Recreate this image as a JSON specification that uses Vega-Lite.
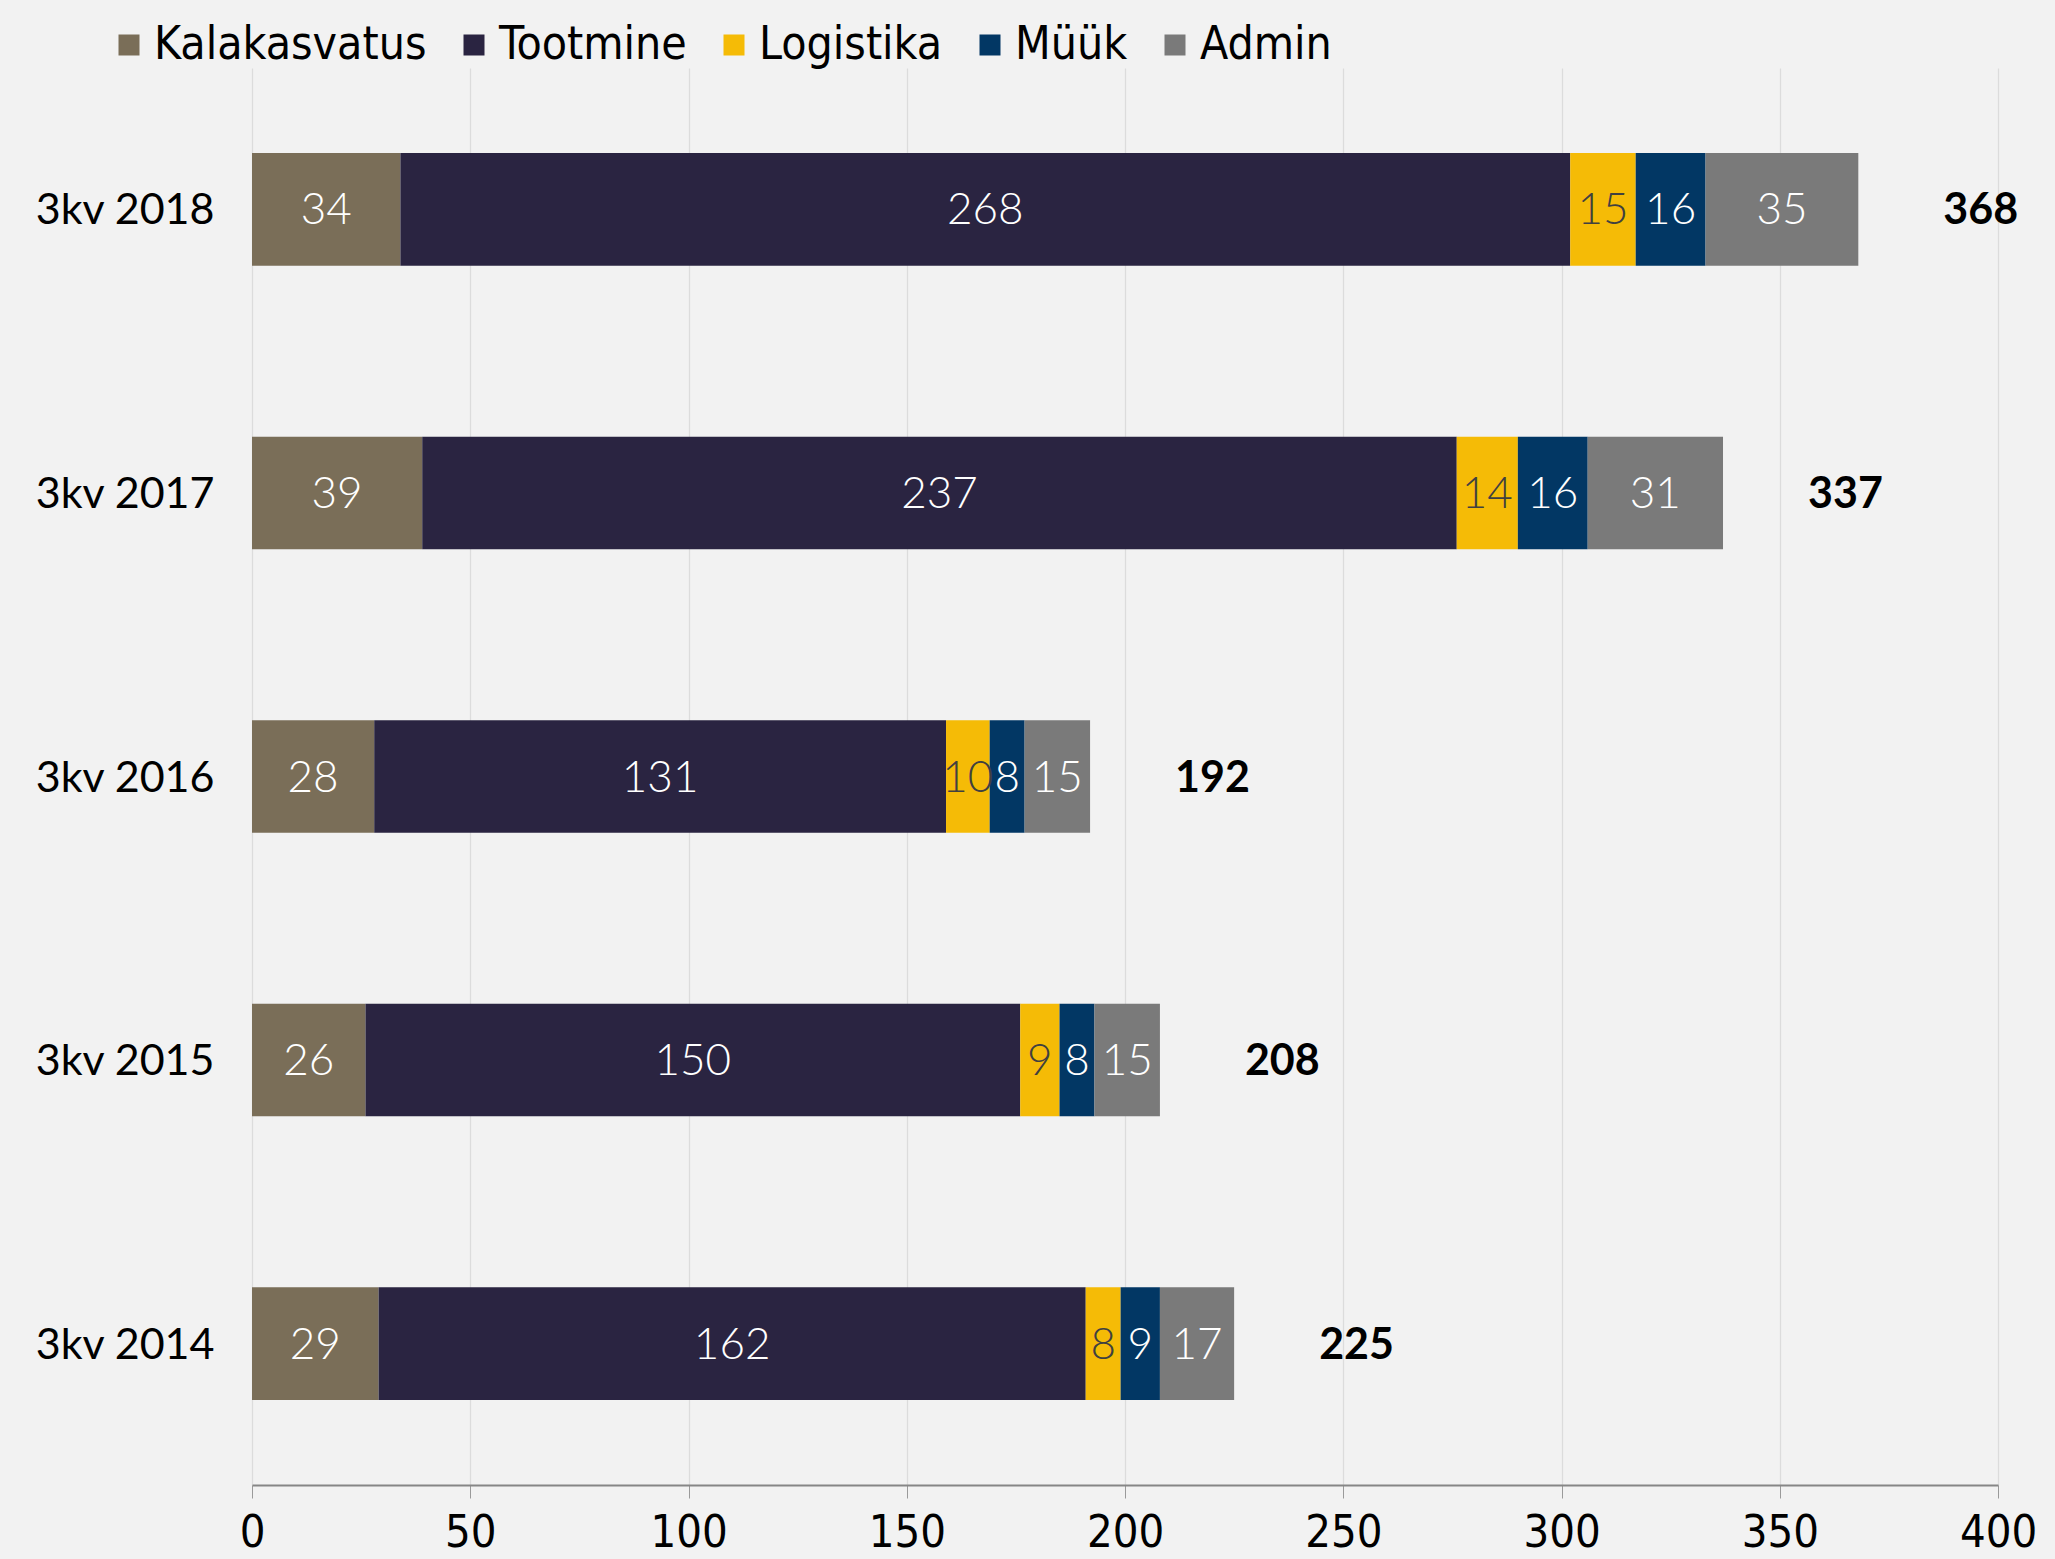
{
  "$schema": "https://vega.github.io/schema/vega-lite/v6.json",
  "autosize": {"type": "none"},
  "padding": {"left": 252, "top": 68, "right": 57, "bottom": 74},
  "width": 1746,
  "height": 1417,
  "background": "#F2F2F2",
  "config": {
    "view": {"stroke": null},
    "font": "Lato"
  },
  "data": {
    "values": [
      {"q": "3kv 2018", "s": "Kalakasvatus", "o": 1, "v": 34},
      {"q": "3kv 2018", "s": "Tootmine", "o": 2, "v": 268},
      {"q": "3kv 2018", "s": "Logistika", "o": 3, "v": 15},
      {"q": "3kv 2018", "s": "Müük", "o": 4, "v": 16},
      {"q": "3kv 2018", "s": "Admin", "o": 5, "v": 35},
      {"q": "3kv 2017", "s": "Kalakasvatus", "o": 1, "v": 39},
      {"q": "3kv 2017", "s": "Tootmine", "o": 2, "v": 237},
      {"q": "3kv 2017", "s": "Logistika", "o": 3, "v": 14},
      {"q": "3kv 2017", "s": "Müük", "o": 4, "v": 16},
      {"q": "3kv 2017", "s": "Admin", "o": 5, "v": 31},
      {"q": "3kv 2016", "s": "Kalakasvatus", "o": 1, "v": 28},
      {"q": "3kv 2016", "s": "Tootmine", "o": 2, "v": 131},
      {"q": "3kv 2016", "s": "Logistika", "o": 3, "v": 10},
      {"q": "3kv 2016", "s": "Müük", "o": 4, "v": 8},
      {"q": "3kv 2016", "s": "Admin", "o": 5, "v": 15},
      {"q": "3kv 2015", "s": "Kalakasvatus", "o": 1, "v": 26},
      {"q": "3kv 2015", "s": "Tootmine", "o": 2, "v": 150},
      {"q": "3kv 2015", "s": "Logistika", "o": 3, "v": 9},
      {"q": "3kv 2015", "s": "Müük", "o": 4, "v": 8},
      {"q": "3kv 2015", "s": "Admin", "o": 5, "v": 15},
      {"q": "3kv 2014", "s": "Kalakasvatus", "o": 1, "v": 29},
      {"q": "3kv 2014", "s": "Tootmine", "o": 2, "v": 162},
      {"q": "3kv 2014", "s": "Logistika", "o": 3, "v": 8},
      {"q": "3kv 2014", "s": "Müük", "o": 4, "v": 9},
      {"q": "3kv 2014", "s": "Admin", "o": 5, "v": 17}
    ]
  },
  "transform": [
    {"stack": "v", "groupby": ["q"], "sort": [{"field": "o", "order": "ascending"}], "as": ["v0", "v1"]},
    {"calculate": "(datum.v0 + datum.v1) / 2", "as": "mid"}
  ],
  "encoding": {
    "y": {
      "field": "q", "type": "nominal",
      "sort": ["3kv 2018", "3kv 2017", "3kv 2016", "3kv 2015", "3kv 2014"],
      "scale": {"paddingInner": 0.603, "paddingOuter": 0.3},
      "axis": {
        "title": null, "domain": false, "ticks": false, "grid": false,
        "labelFontSize": 43, "labelColor": "#000000", "labelPadding": 38,
        "labelFont": "Lato", "labelBaseline": "middle", "labelOffset": 2
      }
    }
  },
  "layer": [
    {
      "mark": {"type": "bar"},
      "encoding": {
        "x": {
          "field": "v0", "type": "quantitative",
          "scale": {"domain": [0, 400], "nice": false},
          "axis": {
            "title": null, "values": [0, 50, 100, 150, 200, 250, 300, 350, 400],
            "grid": true, "gridColor": "#DCDCDC", "gridWidth": 1.3,
            "domainColor": "#868686", "domainWidth": 2,
            "tickColor": "#9A9A9A", "tickSize": 13, "tickWidth": 1,
            "labelFontSize": 45, "labelColor": "#000000", "labelPadding": 12,
            "labelFont": "DejaVu Sans Condensed", "labelFlush": false
          }
        },
        "x2": {"field": "v1"},
        "color": {
          "field": "s", "type": "nominal",
          "sort": ["Kalakasvatus", "Tootmine", "Logistika", "Müük", "Admin"],
          "scale": {
            "domain": ["Kalakasvatus", "Tootmine", "Logistika", "Müük", "Admin"],
            "range": ["#7A6E58", "#2A2441", "#F5BB06", "#023764", "#7A7A7A"]
          },
          "legend": {
            "title": null, "orient": "none", "direction": "horizontal",
            "legendX": -146, "legendY": -46, "columns": 5,
            "symbolType": "square", "symbolSize": 441, "symbolStrokeWidth": 0,
            "labelFontSize": 46, "labelFont": "DejaVu Sans Condensed",
            "labelColor": "#000000", "labelOffset": 2, "columnPadding": 24,
            "labelLimit": 400
          }
        }
      }
    },
    {
      "mark": {"type": "text", "fontSize": 44, "fontWeight": 300, "baseline": "middle", "align": "center", "dy": 2},
      "encoding": {
        "x": {"field": "mid", "type": "quantitative"},
        "text": {"field": "v", "type": "quantitative"},
        "color": {
          "condition": {"test": "datum.s === 'Logistika'", "value": "#404040"},
          "value": "#FFFFFF"
        }
      }
    },
    {
      "transform": [{"aggregate": [{"op": "sum", "field": "v", "as": "tot"}], "groupby": ["q"]}],
      "mark": {"type": "text", "fontSize": 43, "fontWeight": "bold", "align": "left", "baseline": "middle", "dx": 85, "dy": 2, "color": "#000000"},
      "encoding": {
        "x": {"field": "tot", "type": "quantitative"},
        "text": {"field": "tot", "type": "quantitative"}
      }
    }
  ]
}
